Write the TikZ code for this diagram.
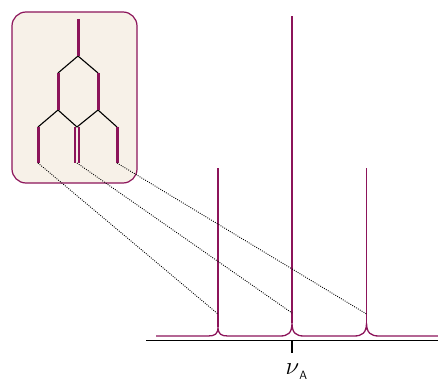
\documentclass[tikz,border=0pt]{standalone}
\definecolor{nmr}{RGB}{140,20,90}
\definecolor{paper}{RGB}{247,241,232}
\begin{document}
\begin{tikzpicture}[x=1pt,y=-1pt,
  spec/.style={draw=nmr,line width=1.3pt,line join=round},
  bond/.style={draw=black,line width=1.1pt},
  atomline/.style={draw=nmr,line width=3pt},
  link/.style={draw=black,line width=0.9pt,dash pattern=on 0.9pt off 1.3pt},
  axisline/.style={draw=black,line width=1.2pt}]
\useasboundingbox (0,0) rectangle (438,382);
% framed molecule box
\node[draw=nmr,fill=paper,line width=1.2pt,rounded corners=14pt,
      minimum width=125pt,minimum height=171pt,inner sep=0pt] (box) at (74.5,97.5) {};
% tree coordinates
\coordinate (t0) at (78,19);
\coordinate (t1) at (78,56);
\coordinate (l1) at (58,73);
\coordinate (l2) at (58,110);
\coordinate (r1) at (98,73);
\coordinate (r2) at (98,110);
\coordinate (a1) at (38,127);
\coordinate (a2) at (38,163);
\coordinate (b1) at (77,127);
\coordinate (b2) at (77,163);
\coordinate (c1) at (117,127);
\coordinate (c2) at (117,163);
% black splitting lines
\draw[bond] (t1) -- (l1);
\draw[bond] (t1) -- (r1);
\draw[bond] (l2) -- (a1);
\draw[bond] (l2) -- (b1);
\draw[bond] (r2) -- (b1);
\draw[bond] (r2) -- (c1);
% purple line segments
\draw[atomline] (t0) -- (t1);
\draw[atomline] (l1) -- (l2);
\draw[atomline] (r1) -- (r2);
\draw[atomline] (a1) -- (a2);
\draw[atomline] (c1) -- (c2);
\draw[atomline,line width=2.3pt] ([xshift=-1.8pt]b1) -- ([xshift=-1.8pt]b2);
\draw[atomline,line width=2.3pt] ([xshift=1.8pt]b1) -- ([xshift=1.8pt]b2);
% spectrum
\coordinate (s0) at (156,336);
\coordinate (s1) at (438,336);
\coordinate (f1) at (218,327);
\coordinate (f2) at (292,323);
\coordinate (f3) at (366.5,323);
\coordinate (h1) at (218,168);
\coordinate (h2) at (292,16);
\coordinate (h3) at (366.5,168);
\draw[spec] (s0) -- (208,336) .. controls (215,336) and (218,334) .. (f1)
  .. controls (218,334) and (221,336) .. (228,336)
  -- (280,336) .. controls (288,336) and (292,333) .. (f2)
  .. controls (292,333) and (296,336) .. (304,336)
  -- (354,336) .. controls (362,336) and (366.5,333) .. (f3)
  .. controls (366.5,333) and (371,336) .. (379,336)
  -- (s1);
\draw[spec] (f1) -- (h1);
\draw[spec] (f2) -- (h2);
\draw[spec] (f3) -- (h3);
% dotted correspondence lines
\coordinate (d1) at (218,314);
\coordinate (d2) at (292,313);
\coordinate (d3) at (366.5,314);
\draw[link] (a2) -- (d1);
\draw[link] (b2) -- (d2);
\draw[link] (c2) -- (d3);
% axis
\coordinate (x0) at (146,340.5);
\coordinate (x1) at (438,340.5);
\coordinate (k0) at (292,340.5);
\coordinate (k1) at (292,353);
\draw[axisline] (x0) -- (x1);
\draw[axisline] (k0) -- (k1);
\node[anchor=base west,inner sep=0pt] (lab) at (285.5,374)
  {\fontsize{25}{25}\selectfont$\nu$\raisebox{-5pt}{\fontsize{12}{12}\selectfont\sffamily A}};
\end{tikzpicture}
\end{document}
